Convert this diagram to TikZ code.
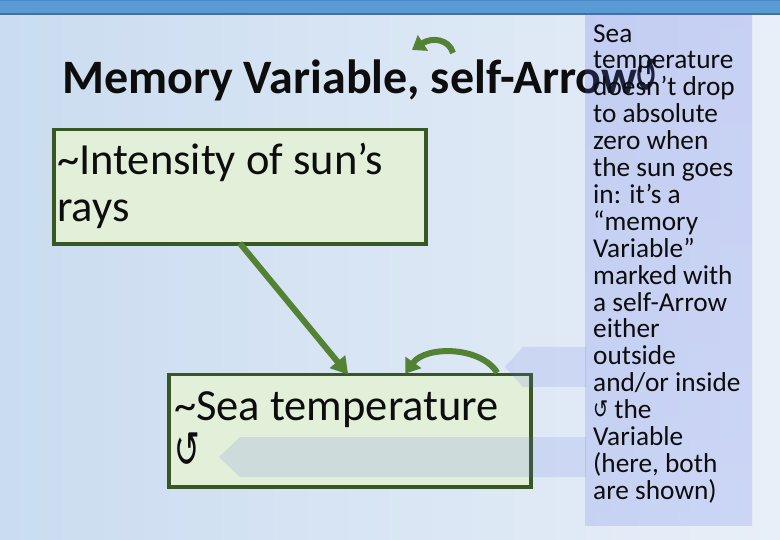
\documentclass[tikz,border=0pt]{standalone}
\usepackage{fontspec}
\usepackage{graphicx}
\setmainfont{Carlito}
\newfontfamily\symfont{DejaVu Sans}
\usetikzlibrary{arrows.meta,calc}
\definecolor{bgL}{HTML}{CADCF0}
\definecolor{bgR}{HTML}{E8EFF8}
\definecolor{barblue}{HTML}{5B9BD5}
\definecolor{barline}{HTML}{41719C}
\definecolor{bartop}{HTML}{4E88C6}
\definecolor{boxfill}{HTML}{E2EFD9}
\definecolor{boxline}{HTML}{385723}
\definecolor{arrgreen}{HTML}{548235}
\definecolor{panelT}{HTML}{5565E4}
\definecolor{panelB}{HTML}{6A7AEA}
\definecolor{ptrfill}{HTML}{5A6EE6}
\definecolor{ink}{HTML}{0D0D0D}
\newcommand{\rot}[2]{{\symfont\fontsize{#1}{#1}\selectfont\scalebox{0.9}[#2]{↺}}}
\tikzset{
  boxshape/.style={fill=boxfill, inner sep=0pt, anchor=north west},
  boxborder/.style={draw=boxline, line width=3.5pt},
  boxtext/.style={inner sep=0pt, anchor=base west, align=left, text=ink,
    font=\fontsize{44.5}{47}\selectfont},
  titletext/.style={inner sep=0pt, anchor=base west, text=ink,
    font=\bfseries\fontsize{48}{48}\selectfont},
  paneltext/.style={inner sep=0pt, anchor=base west, align=left, text=ink,
    font=\fontsize{27.3}{26.9}\selectfont},
  conn/.style={draw=arrgreen, line width=6pt,
    -{Triangle[length=17pt,width=19pt]}},
  selfarr/.style={draw=arrgreen, line width=6pt,
    -{Triangle[length=14pt,width=19pt]}},
  pointer/.style={fill=ptrfill, fill opacity=0.15},
}
\begin{document}
\begin{tikzpicture}[x=1pt,y=-1pt]
\useasboundingbox (0,0) rectangle (780,540);
% background
\shade[left color=bgL, right color=bgR] (0,0) rectangle (780,540);
\fill[barblue] (0,0) rectangle (780,14);
\fill[bartop] (0,0) rectangle (780,1.5);
\fill[barline] (0,13) rectangle (780,15.5);

% title
\node[titletext] (title) at (62,94) {Memory Variable, self-Arrow\hspace{-2pt}\raisebox{1pt}{\rot{30}{1.6}}};
\coordinate (ta1) at (453,53);
\coordinate (ta2) at (412,50);
\draw[selfarr, -{Triangle[length=13pt,width=18pt]}] (ta1) .. controls (449,39) and (432,37) .. (ta2);

% boxes
\node[boxshape, minimum width=372pt, minimum height=114pt] (b1) at (53.75,129.75) {};
\node[boxshape, minimum width=362pt, minimum height=112pt] (b2) at (168.75,374.75) {};
\draw[boxborder] (b1.north west) rectangle (b1.south east);
\draw[boxborder] (b2.north west) rectangle (b2.south east);

% pointers
\path[pointer] (523,347) -- (505,367) -- (523,387) -- (586,387) -- (586,347) -- cycle;
\path[pointer] (240,437) -- (219,457) -- (240,477) -- (586,477) -- (586,437) -- cycle;

% box texts (anchored at the baseline of the last line)
\node[boxtext] (t1) at (57,222) {\textasciitilde Intensity of sun’s\\rays};
\node[boxtext] (t2) at (174,467) {\textasciitilde Sea temperature\\\rot{34}{1.5}};

% connectors
\draw[conn] ($(b1.south west)+(186,-1)$) -- ($(b2.north west)+(179.5,0)$);
\draw[selfarr] ($(b2.north west)+(328.5,-2)$) .. controls ($(b2.north west)+(311.5,-29)$) and ($(b2.north west)+(256.5,-29)$) .. ($(b2.north west)+(236.5,-1)$);

% side panel
\shade[top color=panelT, bottom color=panelB, fill opacity=0.21] (585,15) rectangle (752,525);
\node[paneltext] (pt) at (593,499.3) {Sea\\temperature\\doesn’t drop\\to absolute\\zero when\\the sun goes\\in: it’s a\\“memory\\Variable”\\marked with\\a self-Arrow\\either\\outside\\and/or inside\\\rot{20}{1.3} the\\Variable\\(here, both\\are shown)};
\end{tikzpicture}
\end{document}
